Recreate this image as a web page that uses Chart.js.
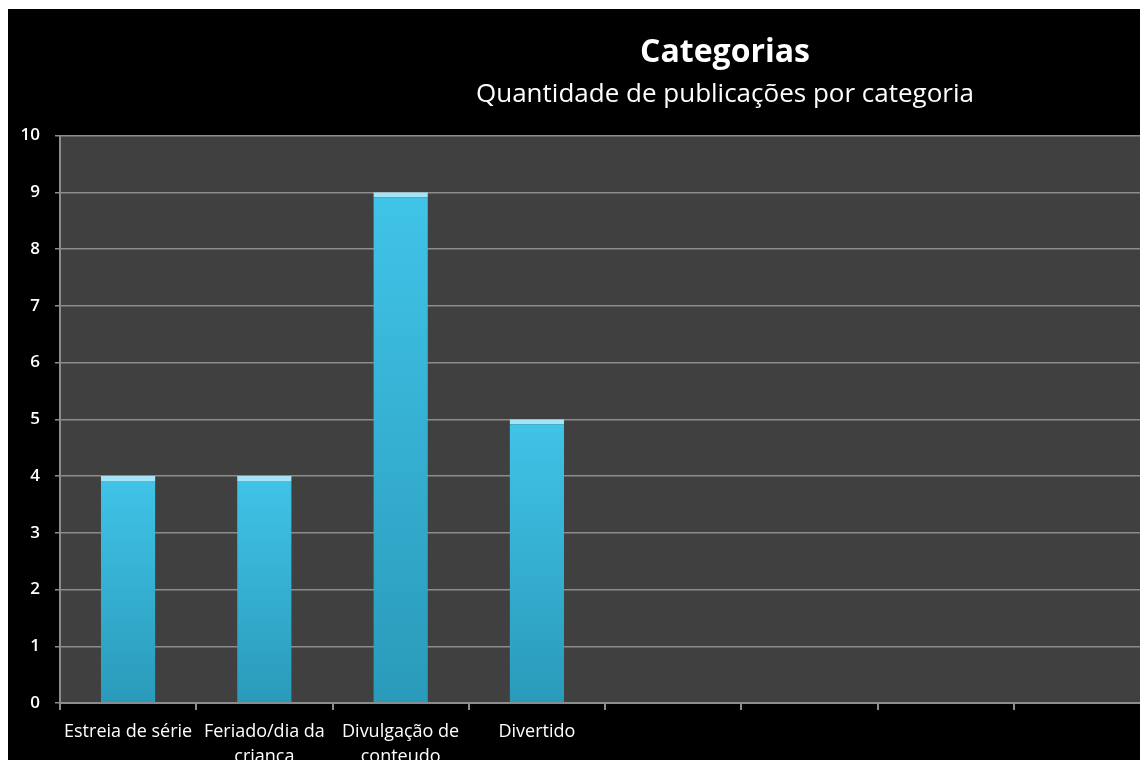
<!DOCTYPE html>
<html>
<head>
<meta charset="utf-8">
<script src="https://cdn.jsdelivr.net/npm/chart.js@4/dist/chart.umd.min.js"></script>
<style>
  html, body { margin: 0; padding: 0; background: #fff; overflow: hidden; width: 1140px; height: 760px; }
  #wrap { position: absolute; left: 8px; top: 9px; width: 1434px; height: 800px; background: #000; }
</style>
</head>
<body>
<div id="wrap"><canvas id="chart" width="1434" height="800"></canvas></div>
<script>
const categories = [
  "Estreia de série",
  ["Feriado/dia da", "criança"],
  ["Divulgação de", "conteudo"],
  "Divertido",
  "", "", "", ""
];
const counts = [4, 4, 9, 5];
const yTicks = [0, 1, 2, 3, 4, 5, 6, 7, 8, 9, 10];

const FONT = "'Open Sans', 'Noto Sans', sans-serif";

// grey plot area behind the bars
const plotBg = {
  id: "plotBg",
  beforeDraw(c) {
    const a = c.chartArea, g = c.ctx;
    g.save();
    g.fillStyle = "#404040";
    g.fillRect(a.left, a.top, a.right - a.left, a.bottom - a.top);
    g.restore();
  },
};

function barFill(ctx) {
  const c = ctx.chart;
  if (!c.chartArea) return "#36b4d8";
  const y = c.scales.y;
  const top = y.getPixelForValue(ctx.raw ?? 0);
  const gr = c.ctx.createLinearGradient(0, top, 0, y.getPixelForValue(0));
  gr.addColorStop(0, "#40c4e8");
  gr.addColorStop(1, "#2a9aba");
  return gr;
}

new Chart(document.getElementById("chart"), {
  type: "bar",
  data: {
    labels: categories,
    datasets: [{
      data: counts,
      backgroundColor: barFill,
      borderColor: "#a4e4f4",
      borderWidth: { top: 5, left: 0, right: 0, bottom: 0 },
      borderSkipped: "bottom",
      barPercentage: 0.8,
      categoryPercentage: 0.5,
    }],
  },
  plugins: [plotBg],
  options: {
    responsive: false,
    animation: false,
    plugins: {
      legend: { display: false },
      tooltip: { enabled: false },
      title: {
        display: true,
        text: "Categorias",
        color: "#fff",
        font: { family: FONT, size: 32, weight: "bold", lineHeight: 1.2 },
        padding: { top: 25, bottom: 0 },
      },
      subtitle: {
        display: true,
        text: "Quantidade de publicações por categoria",
        color: "#fff",
        font: { family: FONT, size: 26, lineHeight: 1.2 },
        padding: { top: 7, bottom: 25 },
      },
    },
    scales: {
      x: {
        afterFit: (s) => { s.height = 106; },
        grid: { offset: true, drawOnChartArea: false, drawTicks: true, tickLength: 7, color: "#8c8c8c", lineWidth: 2 },
        border: { display: true, color: "#8c8c8c", width: 2 },
        ticks: {
          autoSkip: false, maxRotation: 0, minRotation: 0, padding: 10, color: "#fff",
          font: { family: FONT, size: 18, lineHeight: 1.35 },
        },
      },
      y: {
        min: 0,
        max: 10,
        afterFit: (s) => { s.width = 52; },
        afterBuildTicks: (s) => { s.ticks = yTicks.map((v) => ({ value: v })); },
        grid: { color: "#8c8c8c", lineWidth: 1.5, tickLength: 5 },
        border: { display: true, color: "#8c8c8c", width: 2 },
        ticks: {
          color: "#fff", padding: 15,
          font: { family: FONT, size: 17, weight: "600" },
        },
      },
      // empty right-hand box so the plot stops where the reference is cropped
      spacer: {
        type: "linear",
        position: "right",
        afterFit: (s) => { s.width = 292; },
        grid: { display: false },
        border: { display: false },
        ticks: { display: false },
      },
    },
  },
});
</script>
</body>
</html>
